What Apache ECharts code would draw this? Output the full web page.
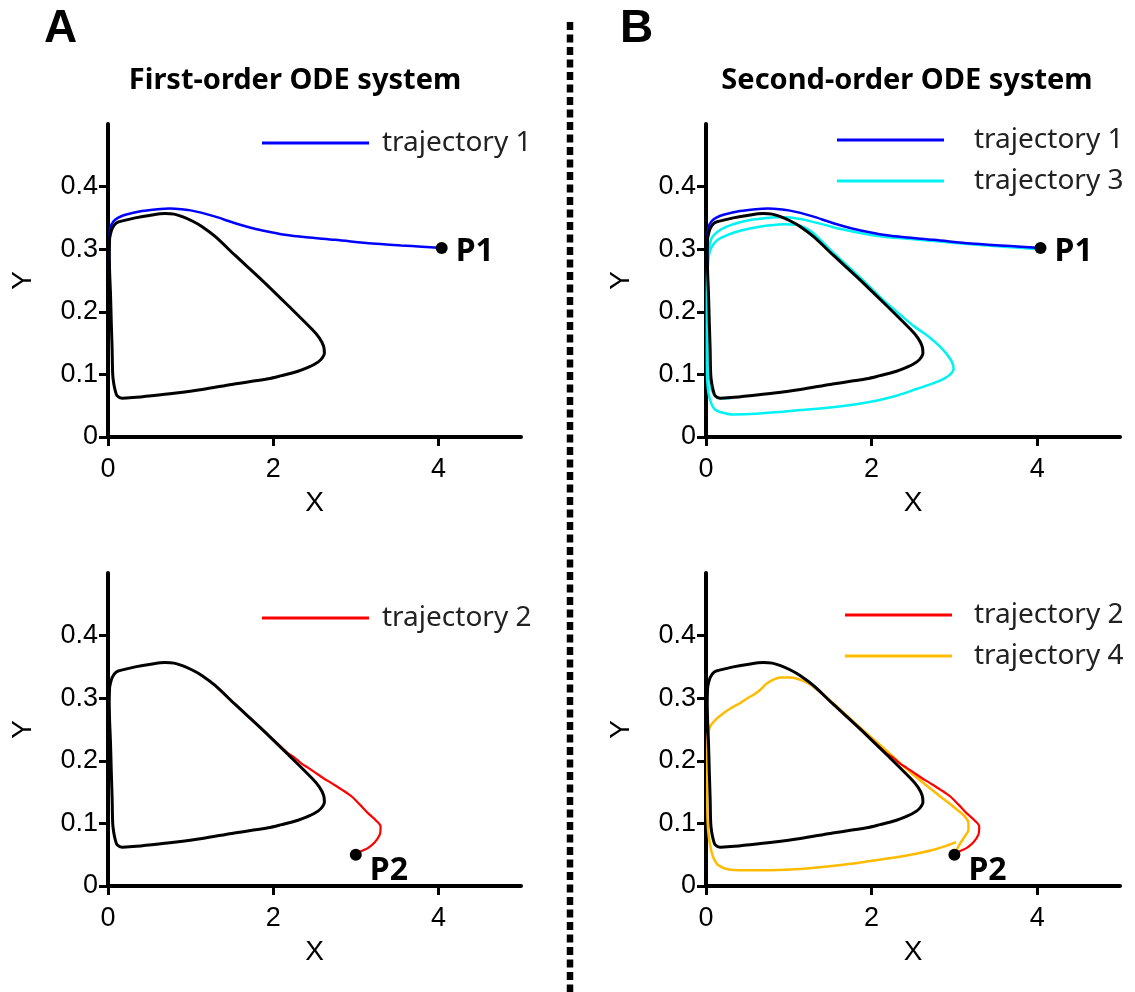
<!DOCTYPE html>
<html><head><meta charset="utf-8">
<script src="https://cdn.jsdelivr.net/npm/echarts@6/dist/echarts.min.js"></script>
<style>html,body{margin:0;padding:0;background:#fff}#c{width:1135px;height:992px}</style>
</head><body><div id="c"></div>
<script>
// ---------- data ----------
const xTicks = [0, 2, 4];
const yTicks = [0, 0.1, 0.2, 0.3, 0.4];
const panelTitles = ['First-order ODE system', 'Second-order ODE system'];
const panelLetters = ['A', 'B'];
const pointNames = ['P1', 'P2'];
const P1 = [[4.04, 0.302]];
const P2 = [[3.0, 0.050]];

const limitCycle = [
 [0.02,0.318],[0.05,0.333],[0.10,0.342],[0.20,0.346],[0.33,0.350],[0.50,0.354],[0.69,0.357],
 [0.80,0.356],[0.90,0.352],[1.02,0.345],[1.14,0.336],[1.30,0.320],[1.54,0.290],[1.86,0.251],
 [2.18,0.210],[2.47,0.172],[2.56,0.158],[2.61,0.145],[2.62,0.134],[2.58,0.124],[2.51,0.117],
 [2.40,0.110],[2.30,0.105],[2.10,0.098],[1.94,0.093],[1.50,0.084],[1.14,0.076],[0.80,0.070],
 [0.53,0.066],[0.30,0.063],[0.17,0.062],[0.11,0.066],[0.09,0.073],[0.07,0.085],[0.057,0.100],
 [0.05,0.140],[0.04,0.182],[0.03,0.230],[0.02,0.262],[0.015,0.295],[0.02,0.318]
];

const trajectory1 = [
 [4.04,0.302],[3.80,0.304],[3.55,0.306],[3.20,0.309],[2.75,0.315],[2.40,0.319],[2.14,0.323],
 [1.90,0.329],[1.74,0.334],[1.60,0.339],[1.46,0.345],[1.30,0.352],[1.14,0.358],[1.00,0.362],
 [0.89,0.364],[0.75,0.365],[0.60,0.364],[0.41,0.361],[0.21,0.355],[0.12,0.350],[0.07,0.345],
 [0.03,0.335],[0.02,0.318],[0.015,0.295],[0.02,0.262]
];

const trajectory3 = [
 [4.02,0.300],[3.60,0.304],[3.20,0.308],[2.75,0.313],[2.40,0.317],[2.14,0.320],[1.90,0.325],
 [1.74,0.329],[1.60,0.333],[1.46,0.338],[1.34,0.342],[1.22,0.346],[1.10,0.349],[0.97,0.351],
 [0.85,0.351],[0.73,0.350],[0.55,0.347],[0.41,0.343],[0.25,0.336],[0.14,0.328],[0.07,0.318],
 [0.04,0.305],[0.02,0.288],[0.012,0.250],[0.01,0.180],[0.01,0.120],[0.015,0.090],[0.03,0.070],
 [0.06,0.055],[0.10,0.045],[0.17,0.040],[0.33,0.036],[0.60,0.037],[0.90,0.040],[1.14,0.043],
 [1.50,0.047],[1.94,0.055],[2.30,0.066],[2.55,0.077],[2.75,0.086],[2.87,0.093],[2.95,0.100],
 [2.99,0.109],[2.97,0.120],[2.91,0.132],[2.83,0.144],[2.72,0.157],[2.63,0.166],[2.50,0.178],
 [2.35,0.195],[2.18,0.214],[1.86,0.255],[1.54,0.294],[1.30,0.325],[1.20,0.334],[1.10,0.339],
 [0.95,0.340],[0.85,0.339],[0.70,0.337],[0.53,0.333],[0.35,0.327],[0.25,0.322],[0.15,0.316],
 [0.09,0.308],[0.05,0.298],[0.03,0.285],[0.02,0.260],[0.02,0.200],[0.025,0.150],[0.04,0.100],
 [0.07,0.075],[0.12,0.064],[0.17,0.062],[0.30,0.062]
];

const trajectory2 = [
 [3.00,0.050],[3.06,0.055],[3.15,0.061],[3.23,0.070],[3.29,0.082],[3.30,0.095],[3.25,0.104],
 [3.15,0.116],[3.05,0.130],[2.95,0.143],[2.83,0.154],[2.71,0.164],[2.60,0.173],[2.51,0.181],
 [2.42,0.189],[2.34,0.196],[2.25,0.206],[2.18,0.212],[1.86,0.251],[1.54,0.290],[1.30,0.320]
];

const trajectory4 = [
 [3.02,0.056],[3.07,0.068],[3.13,0.080],[3.17,0.090],[3.17,0.100],[3.12,0.112],[3.03,0.122],
 [2.93,0.133],[2.83,0.143],[2.63,0.164],[2.43,0.186],[2.18,0.216],[1.82,0.258],[1.46,0.301],
 [1.30,0.318],[1.22,0.325],[1.10,0.331],[1.02,0.333],[0.90,0.333],[0.82,0.330],[0.73,0.323],
 [0.66,0.314],[0.58,0.306],[0.50,0.300],[0.41,0.292],[0.30,0.284],[0.21,0.276],[0.12,0.266],
 [0.05,0.255],[0.02,0.240],[0.015,0.200],[0.015,0.130],[0.025,0.090],[0.05,0.065],[0.09,0.045],
 [0.15,0.033],[0.29,0.026],[0.60,0.025],[1.14,0.027],[1.60,0.033],[1.94,0.039],[2.30,0.046],
 [2.55,0.052],[2.75,0.058],[2.90,0.064],[3.02,0.070]
];

// ---------- chart ----------
const chart = echarts.init(document.getElementById('c'), null, {renderer: 'canvas'});
const FONT = 'Liberation Sans, Arial, sans-serif';
const LFONT = 'Noto Sans, sans-serif';

const grids = [
  {left: 108, top: 124, width: 413, height: 313},
  {left: 706, top: 124, width: 414, height: 313},
  {left: 108, top: 573, width: 413, height: 313},
  {left: 706, top: 573, width: 414, height: 313}
];

const xAxes = grids.map((g, i) => ({
  type: 'value', gridIndex: i, min: 0, max: 5,
  name: 'X', nameLocation: 'middle', nameGap: 52,
  nameTextStyle: {fontFamily: FONT, fontSize: 28, color: '#000'},
  axisLine: {onZero: false, lineStyle: {color: '#000', width: 4}},
  axisTick: {customValues: xTicks, length: 9, lineStyle: {color: '#000', width: 3}},
  axisLabel: {customValues: xTicks, fontFamily: FONT, fontSize: 27, color: '#000', margin: 19},
  splitLine: {show: false}
}));
const yAxes = grids.map((g, i) => ({
  type: 'value', gridIndex: i, min: 0, max: 0.5,
  name: 'Y', nameLocation: 'middle', nameGap: 71,
  nameTextStyle: {fontFamily: FONT, fontSize: 28, color: '#000'},
  axisLine: {onZero: false, lineStyle: {color: '#000', width: 4}},
  axisTick: {customValues: yTicks, length: 9, lineStyle: {color: '#000', width: 3}},
  axisLabel: {customValues: yTicks, fontFamily: FONT, fontSize: 27, color: '#000', margin: 10},
  splitLine: {show: false}
}));

function line(name, data, idx, color, width, z) {
  return {type: 'line', name, data, xAxisIndex: idx, yAxisIndex: idx, showSymbol: false,
    symbol: 'none', smooth: 0.3, z, color, lineStyle: {color, width}, itemStyle: {color},
    silent: true};
}
function point(name, data, idx, offset) {
  return {type: 'scatter', name: name, data, xAxisIndex: idx, yAxisIndex: idx, symbolSize: 12,
    z: 10, itemStyle: {color: '#000', opacity: 1}, silent: true,
    label: {show: true, formatter: name, position: 'right', distance: 8, offset,
      fontFamily: LFONT, fontWeight: 'bold', fontSize: 32, color: '#000', opacity: 1}};
}

const BLUE = '#0000ff', CYAN = '#00f2f2', RED = '#ff0000', ORANGE = '#ffbb00';

const series = [
  line('trajectory 1', trajectory1, 0, BLUE, 2.5, 3),
  line('limit cycle', limitCycle, 0, '#000', 3, 5),
  point(pointNames[0], P1, 0, [0, 4]),

  line('trajectory 3', trajectory3, 1, CYAN, 2.5, 2),
  line('trajectory 1', trajectory1, 1, BLUE, 2.5, 3),
  line('limit cycle', limitCycle, 1, '#000', 3, 5),
  point(pointNames[0], P1, 1, [0, 4]),

  line('trajectory 2', trajectory2, 2, RED, 2.2, 3),
  line('limit cycle', limitCycle, 2, '#000', 3, 5),
  point(pointNames[1], P2, 2, [0, 16]),

  line('trajectory 4', trajectory4, 3, ORANGE, 2.5, 2),
  line('trajectory 2', trajectory2, 3, RED, 2.2, 3),
  line('limit cycle', limitCycle, 3, '#000', 3, 5),
  point(pointNames[1], P2, 3, [0, 16])
];

function legend(left, top, names, pad) {
  return {left, top, orient: 'vertical', data: names, icon: 'rect', itemWidth: 107, itemHeight: 3,
    itemGap: 13, padding: 0, selectedMode: false,
    textStyle: {fontFamily: LFONT, fontSize: 28, color: '#222', padding: [0, 0, 0, pad], lineHeight: 28}};
}

const option = {
  animation: false,
  backgroundColor: '#fff',
  title: [
    {text: panelLetters[0], left: 39, top: 1, textStyle: {fontFamily: FONT, fontWeight: 'bold', fontSize: 46, color: '#000'}},
    {text: panelLetters[1], left: 615, top: 1, textStyle: {fontFamily: FONT, fontWeight: 'bold', fontSize: 46, color: '#000'}},
    {text: panelTitles[0], left: 290, top: 61, textAlign: 'center', textStyle: {fontFamily: LFONT, fontWeight: 'bold', fontSize: 29, color: '#000'}},
    {text: panelTitles[1], left: 902, top: 61, textAlign: 'center', textStyle: {fontFamily: LFONT, fontWeight: 'bold', fontSize: 29, color: '#000'}}
  ],
  legend: [
    legend(262, 129, ['trajectory 1'], 8),
    legend(837, 126, ['trajectory 1', 'trajectory 3'], 25),
    legend(262, 604, ['trajectory 2'], 8),
    legend(845, 601, ['trajectory 2', 'trajectory 4'], 17)
  ],
  grid: grids,
  xAxis: xAxes,
  yAxis: yAxes,
  series,
  graphic: [{
    type: 'line', silent: true,
    shape: {x1: 570, y1: 22, x2: 570, y2: 992},
    style: {stroke: '#000', lineWidth: 6.5, lineDash: [8, 4.5]}
  }]
};
chart.setOption(option);
</script></body></html>
